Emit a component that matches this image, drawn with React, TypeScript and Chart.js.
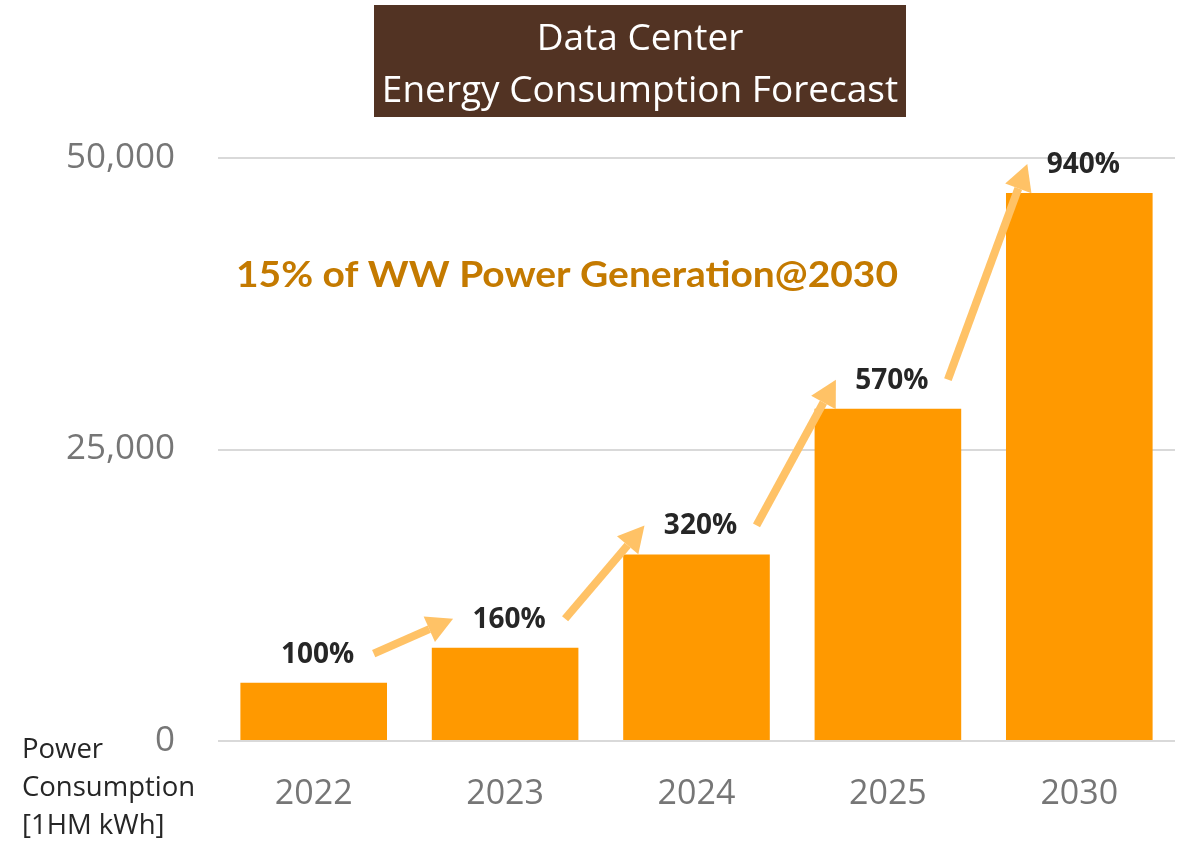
import React, { useEffect, useRef } from "react";
import { Chart, registerables } from "chart.js";

Chart.register(...registerables);

const categories = ["2022", "2023", "2024", "2025", "2030"];
const consumption = [5000, 8000, 16000, 28500, 47000];
const growthLabels = ["100%", "160%", "320%", "570%", "940%"];
const yTicks = [0, 25000, 50000];
const titleLines = ["Data Center", "Energy Consumption Forecast"];
const annotationText = "15% of WW Power Generation@2030";
const axisNoteLines = ["Power", "Consumption", "[1HM kWh]"];

const BAR_COLOR = "#FF9900";
const ARROW_COLOR = "#FFC266";
const FONT = "'Open Sans', 'Noto Sans', sans-serif";

function drawArrow(ctx: CanvasRenderingContext2D, x1: number, y1: number, x2: number, y2: number) {
  const ang = Math.atan2(y2 - y1, x2 - x1);
  const headLen = 26;
  const headHalf = 14;
  const bx = x2 - headLen * Math.cos(ang);
  const by = y2 - headLen * Math.sin(ang);
  ctx.save();
  ctx.strokeStyle = ARROW_COLOR;
  ctx.fillStyle = ARROW_COLOR;
  ctx.lineWidth = 8;
  ctx.lineCap = "butt";
  ctx.beginPath();
  ctx.moveTo(x1, y1);
  ctx.lineTo(bx, by);
  ctx.stroke();
  ctx.beginPath();
  ctx.moveTo(x2, y2);
  ctx.lineTo(bx + headHalf * Math.sin(ang), by - headHalf * Math.cos(ang));
  ctx.lineTo(bx - headHalf * Math.sin(ang), by + headHalf * Math.cos(ang));
  ctx.closePath();
  ctx.fill();
  ctx.restore();
}

const overlayPlugin = {
  id: "overlay",
  afterDatasetsDraw(chart: any) {
    const ctx: CanvasRenderingContext2D = chart.ctx;
    const bars = chart.getDatasetMeta(0).data;

    // percentage labels
    const labelPos = bars.map((b: any) => ({ x: b.x + 4, y: b.y - 28 }));
    ctx.save();
    ctx.font = `bold 28px ${FONT}`;
    ctx.fillStyle = "#262626";
    ctx.textAlign = "center";
    ctx.textBaseline = "middle";
    labelPos.forEach((p: any, i: number) => ctx.fillText(growthLabels[i], p.x, p.y));
    ctx.restore();

    // arrows between labels
    for (let i = 0; i < labelPos.length - 1; i++) {
      const a = labelPos[i];
      const b = labelPos[i + 1];
      drawArrow(ctx, a.x + 56, a.y - 1, b.x - 56, b.y - 1);
    }

    // annotation text
    ctx.save();
    ctx.font = `bold 36px Lato, ${FONT}`;
    ctx.fillStyle = "#C47A00";
    ctx.textBaseline = "middle";
    ctx.textAlign = "left";
    const targetW = 662;
    const w = ctx.measureText(annotationText).width;
    ctx.translate(236, 275);
    ctx.scale(targetW / w, 1);
    ctx.fillText(annotationText, 0, 0);
    ctx.restore();

    // title box
    ctx.save();
    ctx.fillStyle = "#523323";
    ctx.fillRect(374, 5, 532, 112);
    ctx.fillStyle = "#FFFFFF";
    ctx.font = `37px ${FONT}`;
    ctx.textAlign = "center";
    ctx.textBaseline = "middle";
    ctx.fillText(titleLines[0], 640, 39);
    ctx.fillText(titleLines[1], 640, 91);
    ctx.restore();

    // axis note
    ctx.save();
    ctx.fillStyle = "#262626";
    ctx.font = `27.5px ${FONT}`;
    ctx.textAlign = "left";
    ctx.textBaseline = "middle";
    axisNoteLines.forEach((t, i) => ctx.fillText(t, 22, 750 + i * 38));
    ctx.restore();
  },
};

export default function App() {
  const ref = useRef<HTMLCanvasElement | null>(null);
  useEffect(() => {
    if (!ref.current) return;
    const chart = new Chart(ref.current, {
      type: "bar",
      data: {
        labels: categories,
        datasets: [
          {
            data: consumption,
            backgroundColor: BAR_COLOR,
            borderWidth: 0,
            categoryPercentage: 1,
            barPercentage: 0.766,
          },
        ],
      },
      options: {
        animation: false,
        responsive: false,
        maintainAspectRatio: false,
        layout: { padding: { top: 158, right: 8, left: 0, bottom: 0 } },
        plugins: {
          legend: { display: false },
          tooltip: { enabled: false },
          title: { display: false },
        },
        scales: {
          x: {
            grid: { display: false },
            border: { display: false },
            ticks: {
              color: "#767676",
              font: { family: FONT, size: 34 },
              padding: 25,
            },
            afterFit: (s: any) => {
              s.height = 101;
            },
          },
          y: {
            min: 0,
            max: 50000,
            afterBuildTicks: (s: any) => {
              s.ticks = yTicks.map((v) => ({ value: v }));
            },
            grid: { color: "#D9D9D9", lineWidth: 2, drawTicks: false },
            border: { display: false },
            ticks: {
              color: "#767676",
              font: { family: FONT, size: 35 },
              padding: 43,
              callback: (v: any) => Number(v).toLocaleString("en-US"),
            },
            afterFit: (s: any) => {
              s.width = 218;
            },
          },
        },
      },
      plugins: [overlayPlugin],
    });
    return () => chart.destroy();
  }, []);
  return (
    <div style={{ position: "fixed", left: 0, top: 0, width: 1183, height: 842, background: "#fff" }}>
      <canvas ref={ref} width={1183} height={842} style={{ width: 1183, height: 842 }} />
    </div>
  );
}
